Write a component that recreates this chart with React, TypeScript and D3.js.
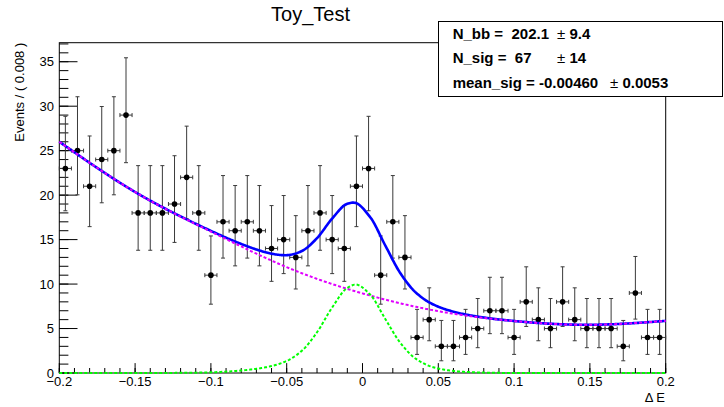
import React from "react";
import * as d3 from "d3";

// ---------- data ----------
const xMin = -0.2;
const xMax = 0.2;
const binWidth = 0.008;
const counts = [
  23, 25, 21, 24, 25, 29, 18, 18, 18, 19, 22, 18, 11, 17, 16, 17, 16, 14, 15, 13,
  16, 18, 15, 14, 21, 23, 11, 17, 13, 4, 6, 3, 3, 4, 5, 7, 7, 4, 8, 6,
  5, 8, 6, 5, 5, 5, 3, 9, 4, 4,
];

const xTickValues = [-0.2, -0.15, -0.1, -0.05, 0, 0.05, 0.1, 0.15, 0.2];
const xTickLabels = ["\u22120.2", "\u22120.15", "\u22120.1", "\u22120.05", "0", "0.05", "0.1", "0.15", "0.2"];
const yTickValues = [0, 5, 10, 15, 20, 25, 30, 35];

// background pdf (magenta) read at knots
const bkgX = [-0.2, -0.15, -0.1, -0.05, 0, 0.05, 0.1, 0.15, 0.2];
const bkgY = [26.0, 20.35, 15.9, 11.9, 8.95, 6.95, 5.84, 5.42, 5.86];

// signal pdf (green) read at knots
const sigX = [-0.2, -0.15, -0.12, -0.1, -0.09, -0.08, -0.07, -0.06, -0.05, -0.04, -0.03, -0.02, -0.01, -0.0045,
  0.005, 0.015, 0.025, 0.035, 0.045, 0.055, 0.065, 0.075, 0.09, 0.11, 0.15, 0.2];
const sigY = [0, 0.002, 0.017, 0.08, 0.15, 0.28, 0.47, 0.78, 1.35, 2.5, 4.58, 7.37, 9.57, 9.95,
  8.83, 6.09, 3.38, 1.62, 0.74, 0.34, 0.15, 0.066, 0.015, 0.003, 0, 0];

const paramLabels = ["N_bb =  202.1", "N_sig =  67", "mean_sig = -0.00460"];
const paramErrors = ["9.4", "14", "0.0053"];

const title = "Toy_Test";
const xTitle = "\u0394 E";
const yTitle = "Events / ( 0.008 )";

// ---------- helpers ----------
function naturalSpline(xs: number[], ys: number[]) {
  const n = xs.length;
  const h: number[] = [], alpha: number[] = [], l: number[] = [], mu: number[] = [], z: number[] = [];
  const b: number[] = [], c: number[] = [], d: number[] = [];
  for (let i = 0; i < n - 1; i++) h[i] = xs[i + 1] - xs[i];
  for (let i = 1; i < n - 1; i++)
    alpha[i] = (3 / h[i]) * (ys[i + 1] - ys[i]) - (3 / h[i - 1]) * (ys[i] - ys[i - 1]);
  l[0] = 1; mu[0] = 0; z[0] = 0;
  for (let i = 1; i < n - 1; i++) {
    l[i] = 2 * (xs[i + 1] - xs[i - 1]) - h[i - 1] * mu[i - 1];
    mu[i] = h[i] / l[i];
    z[i] = (alpha[i] - h[i - 1] * z[i - 1]) / l[i];
  }
  c[n - 1] = 0;
  for (let j = n - 2; j >= 0; j--) {
    c[j] = z[j] - mu[j] * c[j + 1];
    b[j] = (ys[j + 1] - ys[j]) / h[j] - (h[j] * (c[j + 1] + 2 * c[j])) / 3;
    d[j] = (c[j + 1] - c[j]) / (3 * h[j]);
  }
  return (x: number) => {
    let j = 0;
    while (j < n - 2 && x > xs[j + 1]) j++;
    const dx = x - xs[j];
    return ys[j] + b[j] * dx + c[j] * dx * dx + d[j] * dx * dx * dx;
  };
}

function monotoneSpline(xs: number[], ys: number[]) {
  const n = xs.length;
  const h: number[] = [], s: number[] = [], m: number[] = [];
  for (let i = 0; i < n - 1; i++) {
    h[i] = xs[i + 1] - xs[i];
    s[i] = (ys[i + 1] - ys[i]) / h[i];
  }
  m[0] = s[0];
  m[n - 1] = s[n - 2];
  for (let i = 1; i < n - 1; i++) {
    if (s[i - 1] * s[i] <= 0) m[i] = 0;
    else {
      const w1 = 2 * h[i] + h[i - 1];
      const w2 = h[i] + 2 * h[i - 1];
      m[i] = (w1 + w2) / (w1 / s[i - 1] + w2 / s[i]);
    }
  }
  return (x: number) => {
    let j = 0;
    while (j < n - 2 && x > xs[j + 1]) j++;
    const t = (x - xs[j]) / h[j];
    const t2 = t * t, t3 = t2 * t;
    return (
      (2 * t3 - 3 * t2 + 1) * ys[j] +
      (t3 - 2 * t2 + t) * h[j] * m[j] +
      (-2 * t3 + 3 * t2) * ys[j + 1] +
      (t3 - t2) * h[j] * m[j + 1]
    );
  };
}

// Garwood-like Poisson interval (Wilson-Hilferty approximation)
function poissonLow(n: number) {
  if (n <= 0) return 0;
  return n * Math.pow(1 - 1 / (9 * n) - 1 / (3 * Math.sqrt(n)), 3);
}
function poissonHigh(n: number) {
  const m = n + 1;
  return m * Math.pow(1 - 1 / (9 * m) + 1 / (3 * Math.sqrt(m)), 3);
}

const FONT = "'Liberation Sans', Arial, Helvetica, sans-serif";

export default function App() {
  const W = 724, H = 407;
  const left = 59.3, right = 665.7, top = 42.7, bottom = 373;
  const yMax = 37.14;

  const x = d3.scaleLinear().domain([xMin, xMax]).range([left, right]);
  const y = d3.scaleLinear().domain([0, yMax]).range([bottom, top]);

  const bkg = naturalSpline(bkgX, bkgY);
  const sig = monotoneSpline(sigX, sigY);
  const grid = d3.range(0, 601).map((i) => xMin + (i * (xMax - xMin)) / 600);

  const line = d3
    .line<[number, number]>()
    .x((d) => x(d[0]))
    .y((d) => y(d[1]));

  const totalPath = line(grid.map((v) => [v, bkg(v) + Math.max(0, sig(v))] as [number, number])) || "";
  const bkgPath = line(grid.map((v) => [v, bkg(v)] as [number, number])) || "";
  const sigPath = line(grid.map((v) => [v, Math.max(0, sig(v))] as [number, number])) || "";

  const centers = counts.map((_, i) => xMin + (i + 0.5) * binWidth);

  const xMinor = d3.range(0, 41).map((i) => xMin + i * 0.01);
  const yMinor = d3.range(0, 38);

  const xMajLen = 9.9, xMinLen = 5;
  const yMajLen = 18.2, yMinLen = 9.1;

  const cap = 2;

  return (
    <svg
      width={W}
      height={H}
      viewBox={`0 0 ${W} ${H}`}
      style={{ position: "absolute", left: 0, top: 0, background: "#fff" }}
      fontFamily={FONT}
    >
      <rect x={0} y={0} width={W} height={H} fill="#fff" />

      {/* frame */}
      <rect x={left} y={top} width={right - left} height={bottom - top} fill="none" stroke="#000" strokeWidth={1} />

      {/* x ticks */}
      {xMinor.map((v, i) => (
        <line key={"xm" + i} x1={x(v)} x2={x(v)} y1={bottom} y2={bottom - xMinLen} stroke="#000" strokeWidth={1} />
      ))}
      {xTickValues.map((v, i) => (
        <line key={"xM" + i} x1={x(v)} x2={x(v)} y1={bottom} y2={bottom - xMajLen} stroke="#000" strokeWidth={1} />
      ))}
      {xTickValues.map((v, i) => (
        <text key={"xl" + i} x={x(v)} y={385.7} fontSize={13} textAnchor="middle" fill="#000">
          {xTickLabels[i]}
        </text>
      ))}

      {/* y ticks */}
      {yMinor.map((v) => (
        <line key={"ym" + v} x1={left} x2={left + yMinLen} y1={y(v)} y2={y(v)} stroke="#000" strokeWidth={1} />
      ))}
      {yTickValues.map((v) => (
        <line key={"yM" + v} x1={left} x2={left + yMajLen} y1={y(v)} y2={y(v)} stroke="#000" strokeWidth={1} />
      ))}
      {yTickValues.map((v) => (
        <text key={"yl" + v} x={54} y={y(v) + 4.7} fontSize={13} textAnchor="end" fill="#000">
          {String(v)}
        </text>
      ))}

      {/* axis titles */}
      <text x={665} y={401.5} fontSize={13} textAnchor="end" fill="#000">
        {xTitle}
      </text>
      <text transform={`translate(23.5, ${top}) rotate(-90)`} fontSize={13} textAnchor="end" fill="#000">
        {yTitle}
      </text>

      {/* data points */}
      {counts.map((n, i) => {
        const cx = x(centers[i]);
        const cy = y(n);
        const yl = y(poissonLow(n));
        const yh = y(poissonHigh(n));
        const xl = x(centers[i] - binWidth / 2);
        const xr = x(centers[i] + binWidth / 2);
        return (
          <g key={"pt" + i} stroke="#3a3a3a" strokeWidth={1}>
            <line x1={cx} x2={cx} y1={yh} y2={yl} />
            <line x1={cx - cap} x2={cx + cap} y1={yh} y2={yh} />
            <line x1={cx - cap} x2={cx + cap} y1={yl} y2={yl} />
            <line x1={xl} x2={xr} y1={cy} y2={cy} />
            <line x1={xl} x2={xl} y1={cy - cap} y2={cy + cap} />
            <line x1={xr} x2={xr} y1={cy - cap} y2={cy + cap} />
            <circle cx={cx} cy={cy} r={2.8} fill="#000" stroke="none" />
          </g>
        );
      })}

      {/* curves */}
      <path d={totalPath} fill="none" stroke="#0000ff" strokeWidth={2.6} />
      <path d={bkgPath} fill="none" stroke="#e000ff" strokeWidth={2} strokeDasharray="3,2" />
      <path d={sigPath} fill="none" stroke="#00ff00" strokeWidth={2} strokeDasharray="3,2" />

      {/* title */}
      <text x={310.5} y={21} fontSize={20} textAnchor="middle" fill="#000">
        {title}
      </text>

      {/* parameter box */}
      <rect x={438.5} y={21.5} width={284} height={75} fill="#fff" stroke="#000" strokeWidth={1} />
      {paramLabels.map((lab, i) => {
        const by = 38.5 + i * 24.5;
        const pmX = i < 2 ? 557 : 610;
        return (
          <g key={"par" + i}>
            <text x={452.7} y={by} fontSize={15} fontWeight="bold" fill="#000" style={{ whiteSpace: "pre" }}>
              {lab}
            </text>
            <text x={pmX} y={by} fontSize={15} fill="#000" style={{ whiteSpace: "pre" }}>
              <tspan>{"\u00b1"}</tspan>
              <tspan fontWeight="bold">{" " + paramErrors[i]}</tspan>
            </text>
          </g>
        );
      })}
    </svg>
  );
}
